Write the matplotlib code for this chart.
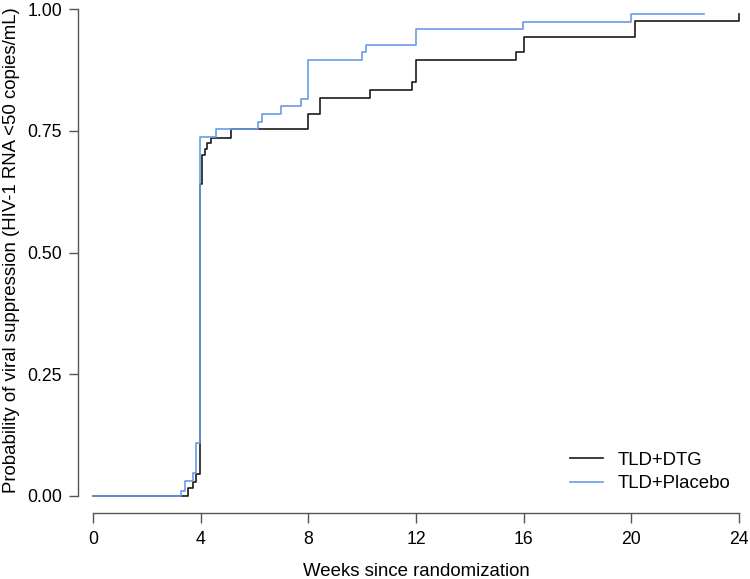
import matplotlib
matplotlib.use("Agg")
import matplotlib.pyplot as plt

# Kaplan-Meier style cumulative probability (step, post)
dtg_weeks = [0, 3.54, 3.70, 3.83, 3.99, 4.06, 4.16, 4.25, 4.40, 5.11, 8.00, 8.43,
             10.29, 11.86, 12.00, 15.71, 16.01, 20.13, 24.0]
dtg_prob = [0, 0.016, 0.029, 0.045, 0.640, 0.700, 0.713, 0.725, 0.735, 0.753, 0.785,
            0.817, 0.833, 0.850, 0.896, 0.912, 0.943, 0.975, 0.990]

placebo_weeks = [0, 3.27, 3.42, 3.70, 3.83, 3.99, 4.57, 6.14, 6.27, 6.98, 7.72, 8.00,
                 9.98, 10.14, 11.99, 15.98, 19.99, 22.70]
placebo_prob = [0, 0.011, 0.030, 0.047, 0.108, 0.738, 0.753, 0.768, 0.784, 0.800,
                0.816, 0.895, 0.911, 0.927, 0.958, 0.974, 0.990, 0.990]

x_ticks = [0, 4, 8, 12, 16, 20, 24]
y_ticks = [0.0, 0.25, 0.50, 0.75, 1.00]
y_tick_labels = ["0.00", "0.25", "0.50", "0.75", "1.00"]
series_labels = ["TLD+DTG", "TLD+Placebo"]

plt.rcParams['font.family'] = ['Liberation Sans', 'DejaVu Sans']
FS_TICK = 12.7
FS = 13.4
W, H = 750, 579
AXW, AXH = 646, 487
fig = plt.figure(figsize=(W / 100, H / 100), dpi=100)
ax = fig.add_axes([93 / W, (H - 496) / H, AXW / W, AXH / H])

black = '#1a1a1a'
blue = '#6a9be8'
ax.step(dtg_weeks, dtg_prob, where='post', color=black, lw=1.2, label=series_labels[0],
        clip_on=False, zorder=2)
ax.step(placebo_weeks, placebo_prob, where='post', color=blue, lw=1.2, label=series_labels[1],
        clip_on=False, zorder=3)

ax.set_xlim(0, 24)
ax.set_ylim(0, 1)
ax.set_xticks(x_ticks)
ax.set_yticks(y_ticks)
ax.set_yticklabels(y_tick_labels)

for s in ['top', 'right']:
    ax.spines[s].set_visible(False)
gray = '#555555'
ax.spines['left'].set_position(('axes', -15 / AXW))
ax.spines['bottom'].set_position(('axes', -17 / AXH))
ax.spines['left'].set_bounds(0, 1)
ax.spines['bottom'].set_bounds(0, 24)
for s in ['left', 'bottom']:
    ax.spines[s].set_color(gray)
    ax.spines[s].set_linewidth(1.0)
ax.tick_params(axis='both', colors=gray, labelcolor='black', labelsize=FS_TICK,
               length=9.5 * 72 / 100, width=1.0)
ax.tick_params(axis='y', pad=4.5)
ax.tick_params(axis='x', pad=6)

ax.set_xlabel("Weeks since randomization", fontsize=FS)
ax.set_ylabel("Probability of viral suppression (HIV-1 RNA <50 copies/mL)", fontsize=FS)
ax.xaxis.set_label_coords(0.5, -0.138)
ax.yaxis.set_label_coords(-0.113, 0.504)

leg = ax.legend(loc='center left', bbox_to_anchor=((570 - 93) / AXW, (496 - 472) / AXH),
                frameon=False, fontsize=FS, handlelength=1.75, handletextpad=0.8,
                labelspacing=0.37, borderpad=0.0, borderaxespad=0.0)

fig.savefig("out.png", dpi=100)
